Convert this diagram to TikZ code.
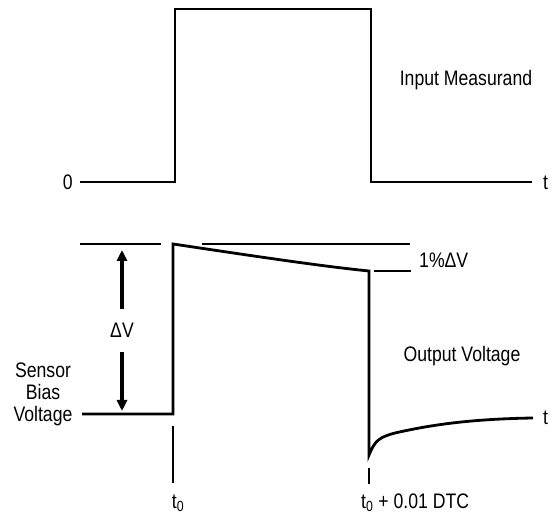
\documentclass[tikz,border=0pt]{standalone}
\usepackage{fontspec}
\setmainfont{Liberation Sans}[FakeStretch=0.84]
\usetikzlibrary{arrows.meta}
\begin{document}
\begin{tikzpicture}[x=1pt,y=-1pt,
  wave/.style={line width=2.8pt,line join=miter},
  thin/.style={line width=1.2pt},
  lbl/.style={font=\fontsize{21}{22}\selectfont,inner sep=0pt},
  bigarrow/.style={line width=3.6pt,-{Triangle[length=11pt,width=10pt]}}]
\useasboundingbox (0,0) rectangle (560,521);
% top waveform
\coordinate (a0) at (80,182);
\coordinate (a1) at (175,182);
\coordinate (a2) at (175,9);
\coordinate (a3) at (371,9);
\coordinate (a4) at (371,182);
\coordinate (a5) at (532,182);
\draw[wave] (a0) -- (a1) -- (a2) -- (a3) -- (a4) -- (a5);
\node[lbl,anchor=east] (zero) at (73,182) {0};
\node[lbl,anchor=west] (t1) at (543,183) {t};
\node[lbl] (im) at (466,80) {Input Measurand};
% bottom reference lines
\coordinate (r1a) at (80,244);
\coordinate (r1b) at (161,244);
\coordinate (r2a) at (202,244);
\coordinate (r2b) at (410,244);
\draw[wave] (r1a) -- (r1b);
\draw[wave] (r2a) -- (r2b);
% output voltage
\coordinate (b0) at (82,414);
\coordinate (b1) at (173,414);
\coordinate (b2) at (173,244);
\coordinate (b3) at (369,271);
\coordinate (b4) at (369,455);
\coordinate (b5) at (533,418);
\draw[wave] (b0) -- (b1) -- (b2)
  .. controls (260,257) and (320,266) .. (b3)
  -- (b4)
  .. controls (375,440) and (380,437) .. (395,433)
  .. controls (430,425) and (470,419) .. (b5);
\node[lbl,anchor=west] (t2) at (543,418) {t};
% 1% line
\coordinate (p1) at (374,271);
\coordinate (p2) at (411,271);
\draw[thin] (p1) -- (p2);
\node[lbl,anchor=west] (pct) at (419,260) {1\%ΔV};
\node[lbl] (ov) at (462,356) {Output Voltage};
% delta V arrows
\node[lbl] (dv) at (122,330) {ΔV};
\coordinate (u1) at (122,309);
\coordinate (u2) at (122,250);
\coordinate (d1) at (122,352);
\coordinate (d2) at (122,411);
\draw[bigarrow] (u1) -- (u2);
\draw[bigarrow] (d1) -- (d2);
% sensor bias label
\node[lbl,align=center] (sb) at (43,394) {Sensor\\Bias\\Voltage};
% ticks
\coordinate (k1a) at (173,426);
\coordinate (k1b) at (173,483);
\coordinate (k2a) at (369,468);
\coordinate (k2b) at (369,484);
\draw[thin] (k1a) -- (k1b);
\draw[thin] (k2a) -- (k2b);
\node[lbl] (t0) at (178,503) {t\textsubscript{0}};
\node[lbl,anchor=west] (t0b) at (361,503) {t\textsubscript{0} + 0.01 DTC};
\end{tikzpicture}
\end{document}
